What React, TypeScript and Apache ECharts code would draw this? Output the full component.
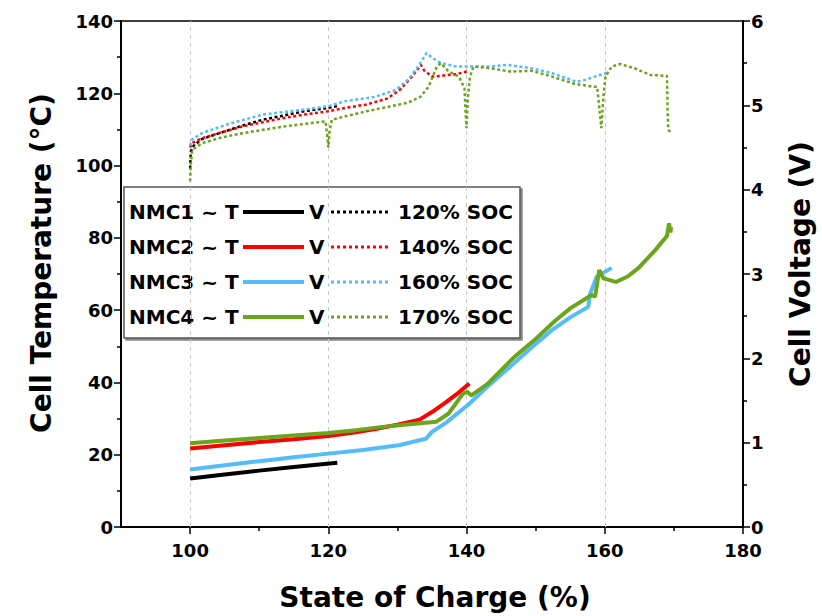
import React, { useEffect, useRef } from 'react';
import * as echarts from 'echarts';

// ---- Data ----
const socMajorTicks = [100, 120, 140, 160, 180];
const socMinorTicks = [110, 130, 150, 170];
const socGridLines = [100, 120, 140, 160];

const seriesNames = ['NMC1', 'NMC2', 'NMC3', 'NMC4'];
const legendLeft = ['NMC1 ~ T', 'NMC2 ~ T', 'NMC3 ~ T', 'NMC4 ~ T'];
const legendRight = ['120% SOC', '140% SOC', '160% SOC', '170% SOC'];
const colors = ['#000000', '#ff0000', '#55bcfa', '#6aa51c'];

// Temperature [SOC %, °C]
const nmc1Temp = [[100, 13.4], [105, 14.5], [110, 15.6], [115, 16.6], [121.3, 17.8]];
const nmc2Temp = [[100, 21.7], [105, 22.6], [110, 23.5], [115, 24.3], [120, 25.2], [124, 26.2], [127, 27.2], [130, 28.3], [133.2, 29.7], [135, 31.8], [137, 34.5], [139, 37.4], [140.4, 39.7]];
const nmc3Temp = [[100, 15.9], [105, 17.1], [110, 18.2], [115, 19.3], [120, 20.3], [125, 21.3], [130.2, 22.6], [134.1, 24.4], [135, 26.3], [137, 28.8], [140.4, 34.1], [143, 38.8], [146.3, 44.3], [149, 49], [152.3, 54.4], [155, 58], [157.6, 60.9], [157.9, 64.6], [158.8, 69.2], [161, 71.7]];
const nmc4Temp = [[100, 23.2], [105, 23.9], [110, 24.6], [115, 25.3], [120, 26], [124, 26.8], [127.9, 27.7], [131, 28.3], [135.6, 29.1], [137.4, 31.4], [139.5, 36.9], [140.1, 37.4], [140.7, 36.4], [143, 39.5], [146.9, 47], [150, 52], [152.9, 57.2], [155, 60.5], [158.1, 64.2], [158.6, 63.7], [159.2, 71.1], [159.8, 68.8], [161.6, 67.8], [163.3, 69.3], [164.9, 71.7], [167.3, 76.6], [169, 80.5], [169.3, 84], [169.5, 81.5], [169.6, 83]];

// Voltage [SOC %, V]
const nmc1Volt = [[100, 4.25], [100.1, 4.45], [100.5, 4.52], [101.7, 4.6], [104.6, 4.68], [107.6, 4.76], [110.5, 4.83], [113.6, 4.88], [116.5, 4.93], [120, 4.97], [121.3, 4.99]];
const nmc2Volt = [[100, 4.5], [100.2, 4.55], [101.7, 4.61], [104.6, 4.68], [107.6, 4.75], [110.5, 4.8], [113.6, 4.85], [116.5, 4.89], [120, 4.93], [122.5, 4.97], [125.5, 5.01], [128.5, 5.08], [130.3, 5.18], [132.1, 5.34], [133.4, 5.48], [133.9, 5.41], [135.1, 5.34], [136.3, 5.35], [138.6, 5.37], [140.4, 5.41]];
const nmc3Volt = [[100, 4.52], [100.2, 4.59], [101.7, 4.67], [105.2, 4.77], [110.5, 4.89], [116.5, 4.95], [120, 4.99], [122.5, 5.05], [126.7, 5.1], [129.7, 5.18], [131.5, 5.3], [133, 5.46], [134.2, 5.62], [135.1, 5.56], [136.3, 5.5], [138.6, 5.46], [141, 5.46], [143.5, 5.46], [145.8, 5.48], [149.4, 5.44], [152.4, 5.38], [155.9, 5.28], [157.1, 5.3], [158.9, 5.35], [160.1, 5.38], [160.6, 5.4]];
const nmc4Volt = [[100, 4.1], [100.1, 4.3], [100.3, 4.47], [101.7, 4.55], [104.6, 4.62], [107.6, 4.67], [113.6, 4.75], [119.6, 4.81], [119.9, 4.6], [120, 4.5], [120.2, 4.7], [120.5, 4.83], [125.5, 4.93], [131.5, 5.03], [133.3, 5.1], [134.5, 5.22], [135.7, 5.46], [136.3, 5.5], [137.4, 5.4], [138.9, 5.34], [139.7, 5.2], [139.9, 4.85], [140, 4.73], [140.2, 5.1], [140.5, 5.34], [141, 5.46], [143.4, 5.44], [146.4, 5.4], [149.4, 5.41], [152.4, 5.34], [155.4, 5.26], [158.3, 5.22], [158.9, 5.22], [159.3, 4.9], [159.5, 4.73], [159.8, 5.1], [160.1, 5.34], [161, 5.46], [162.2, 5.49], [164.3, 5.44], [166.6, 5.36], [169, 5.35], [169.1, 4.9], [169.2, 4.71], [169.6, 4.67]];

const tempData = [nmc1Temp, nmc2Temp, nmc3Temp, nmc4Temp];
const voltData = [nmc1Volt, nmc2Volt, nmc3Volt, nmc4Volt];

const FONT = 'DejaVu Sans';

export default function App() {
  const ref = useRef<HTMLDivElement>(null);

  useEffect(() => {
    if (!ref.current) return;
    const chart = echarts.init(ref.current, undefined, { renderer: 'svg' });

    const tempSeries = tempData.map((d, i) => ({
      name: seriesNames[i] + ' T',
      type: 'line',
      data: d,
      xAxisIndex: 0,
      yAxisIndex: 0,
      showSymbol: false,
      lineStyle: { color: colors[i], width: 4 },
      z: 3,
      ...(i === 0
        ? {
            markLine: {
              silent: true,
              symbol: ['none', 'none'],
              label: { show: false },
              lineStyle: { type: [4, 4], color: '#c8c8c8', width: 1 },
              data: socGridLines.map((v) => ({ xAxis: v })),
              z: 1,
            },
          }
        : {}),
    }));

    const voltSeries = voltData.map((d, i) => ({
      name: seriesNames[i] + ' V',
      type: 'line',
      data: d,
      xAxisIndex: 0,
      yAxisIndex: 1,
      showSymbol: false,
      lineStyle: { color: colors[i], width: 2.5, type: [3, 2.5] },
      z: 3,
    }));

    const rowY = (i: number) => 212 + i * 35;
    const legendChildren: any[] = [
      {
        type: 'rect',
        shape: { x: 124, y: 187, width: 396, height: 151 },
        style: { fill: '#fff', stroke: '#555', lineWidth: 1.5, shadowColor: '#888', shadowOffsetX: 2, shadowOffsetY: 2, shadowBlur: 0 },
      },
    ];
    for (let i = 0; i < 4; i++) {
      const y = rowY(i);
      legendChildren.push(
        { type: 'text', x: 129, y, style: { text: legendLeft[i], fontFamily: FONT, fontWeight: 'bold', fontSize: 20, fill: '#000', verticalAlign: 'middle' } },
        { type: 'line', shape: { x1: 243, y1: y, x2: 304, y2: y }, style: { stroke: colors[i], lineWidth: 4 } },
        { type: 'text', x: 309, y, style: { text: 'V', fontFamily: FONT, fontWeight: 'bold', fontSize: 20, fill: '#000', verticalAlign: 'middle' } },
        { type: 'line', shape: { x1: 331, y1: y, x2: 389, y2: y }, style: { stroke: colors[i], lineWidth: 3, lineDash: [3, 3] } },
        { type: 'text', x: 398, y, style: { text: legendRight[i], fontFamily: FONT, fontWeight: 'bold', fontSize: 20, fill: '#000', verticalAlign: 'middle' } },
      );
    }

    const labelStyle = { fontFamily: FONT, fontWeight: 'bold' as const, fontSize: 18, color: '#000' };
    const nameStyle = { fontFamily: FONT, fontWeight: 'bold' as const, fontSize: 28, color: '#000' };

    chart.setOption({
      animation: false,
      backgroundColor: '#fff',
      grid: { left: 121, right: 72, top: 21, bottom: 89, show: true, borderColor: '#000', borderWidth: 1.5, backgroundColor: 'transparent' },
      xAxis: [
        {
          type: 'value',
          min: 90,
          max: 180,
          interval: 10,
          position: 'bottom',
          name: 'State of Charge (%)',
          nameLocation: 'middle',
          nameGap: 56,
          nameTextStyle: { ...nameStyle, padding: [0, 0, 0, 6] },
          axisLine: { show: true, lineStyle: { color: '#000', width: 2 } },
          axisTick: { show: true, length: 7, lineStyle: { color: '#000', width: 1.5 }, customValues: socMajorTicks },
          axisLabel: { ...labelStyle, margin: 14, customValues: socMajorTicks },
          splitLine: { show: false },
        },
        {
          type: 'value',
          min: 90,
          max: 180,
          interval: 10,
          position: 'bottom',
          axisLine: { show: false },
          axisTick: { show: true, length: 4, lineStyle: { color: '#000', width: 1.5 }, customValues: socMinorTicks },
          axisLabel: { show: false },
          splitLine: { show: false },
        },
      ],
      yAxis: [
        {
          type: 'value',
          min: 0,
          max: 140,
          interval: 20,
          position: 'left',
          name: 'Cell Temperature (°C)',
          nameLocation: 'middle',
          nameRotate: 90,
          nameGap: 66,
          nameTextStyle: { ...nameStyle, padding: [0, 0, 0, 22] },
          axisLine: { show: true, lineStyle: { color: '#000', width: 2 } },
          axisTick: { show: true, length: 7, lineStyle: { color: '#000', width: 1.5 } },
          minorTick: { show: true, splitNumber: 2, length: 4, lineStyle: { color: '#000', width: 1.5 } },
          axisLabel: { ...labelStyle, margin: 8 },
          splitLine: { show: false },
        },
        {
          type: 'value',
          min: 0,
          max: 6,
          interval: 1,
          position: 'right',
          name: 'Cell Voltage (V)',
          nameLocation: 'middle',
          nameRotate: 90,
          nameGap: 43,
          nameTextStyle: { ...nameStyle, padding: [0, 0, 0, 20] },
          axisLine: { show: true, lineStyle: { color: '#000', width: 2 } },
          axisTick: { show: true, length: 7, lineStyle: { color: '#000', width: 1.5 } },
          minorTick: { show: true, splitNumber: 2, length: 4, lineStyle: { color: '#000', width: 1.5 } },
          axisLabel: { ...labelStyle, margin: 8 },
          splitLine: { show: false },
        },
      ],
      series: [...voltSeries, ...tempSeries],
      graphic: [{ type: 'group', z: 100, children: legendChildren }],
    });

    return () => chart.dispose();
  }, []);

  return <div ref={ref} style={{ position: 'fixed', left: 0, top: 0, width: 822, height: 616 }} />;
}
